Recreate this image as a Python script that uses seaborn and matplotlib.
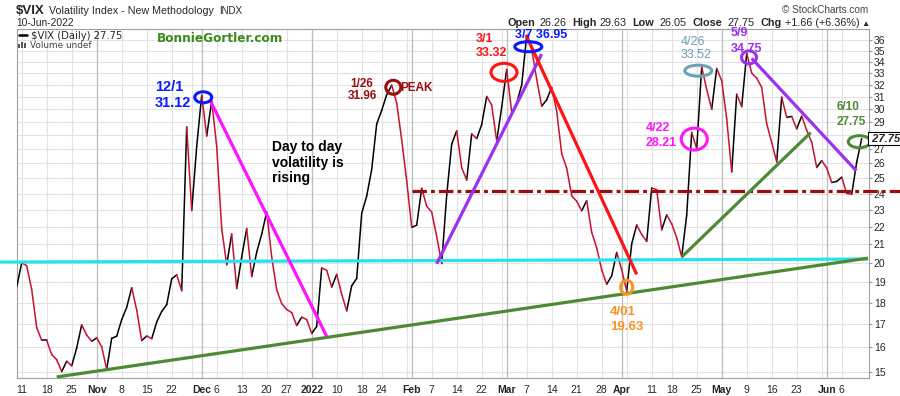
import numpy as np
import pandas as pd
import matplotlib
matplotlib.use("Agg")
import matplotlib.pyplot as plt
import matplotlib.transforms as mtransforms
from matplotlib.patches import Ellipse, Rectangle
from matplotlib.ticker import FixedLocator, FixedFormatter, NullLocator
import seaborn as sns

W, H = 900, 396

# ---------------- data ----------------
holidays = ["2021-11-25", "2021-12-24", "2022-01-17", "2022-02-21",
            "2022-04-15", "2022-05-30"]
dates = pd.bdate_range("2021-10-08", "2022-06-10", freq="C", holidays=holidays)

vix_close = [
    18.77,
    20.00, 19.85, 18.64, 16.86, 16.30, 16.30, 15.70, 15.49, 15.01, 15.43,
    15.24, 15.98, 16.98, 16.53, 16.26,
    16.41, 16.03, 15.10, 16.39, 16.48, 17.22, 17.78, 18.73, 17.66, 16.29,
    16.49, 16.37, 17.11, 17.59, 17.91, 19.17, 19.38, 18.58, 28.62, 22.96, 27.19,
    31.12, 27.95, 30.67, 27.18, 21.89, 19.90, 21.58, 18.69, 20.31, 21.89,
    19.29, 20.57, 21.57, 22.87, 20.31, 18.63, 17.96, 17.68, 17.54, 16.95,
    17.33, 17.22,
    16.60, 16.91, 19.73, 19.61, 18.76, 19.40, 18.41, 17.62, 18.83, 19.19,
    22.79, 23.85, 25.59, 28.85, 29.90, 31.16, 31.96, 30.49, 27.66, 24.83,
    21.96, 22.09, 24.35, 23.22, 22.86, 21.44, 19.96, 23.91, 27.36, 28.33,
    25.70, 24.88, 28.11, 27.75, 28.81, 31.02, 30.32, 27.59, 30.15,
    33.32, 29.74, 30.48, 31.98, 36.45, 35.13, 32.45, 30.23, 30.75, 31.77,
    29.83, 26.67, 25.67, 23.87, 23.53, 22.94, 23.57, 21.67, 20.81, 19.63,
    18.90, 19.33, 20.56,
    19.63, 18.57, 21.03, 22.10, 21.55, 21.16, 24.37, 24.26, 21.82, 22.70,
    22.17, 21.37, 20.32, 22.68, 28.21, 27.02, 33.52, 31.60, 29.99, 33.40,
    32.34, 29.25, 25.42, 31.20, 30.19, 34.75, 32.99, 32.56, 31.77, 28.87,
    27.47, 26.10, 30.96, 29.35, 29.43, 28.48, 29.45, 28.37, 27.50, 25.72,
    26.19,
    25.69, 24.72, 24.79, 25.07, 24.02, 23.96, 26.09, 27.75,
]

tick_dates = ["2021-10-11", "2021-10-18", "2021-10-25", "2021-11-01", "2021-11-08",
              "2021-11-15", "2021-11-22", "2021-12-01", "2021-12-06", "2021-12-13",
              "2021-12-20", "2021-12-27", "2022-01-03", "2022-01-10", "2022-01-18",
              "2022-01-24", "2022-02-01", "2022-02-07", "2022-02-14", "2022-02-22",
              "2022-03-01", "2022-03-07", "2022-03-14", "2022-03-21", "2022-03-28",
              "2022-04-01", "2022-04-11", "2022-04-18", "2022-04-25", "2022-05-02",
              "2022-05-09", "2022-05-16", "2022-05-23", "2022-06-01", "2022-06-06"]
tick_labels = ["11", "18", "25", "Nov", "8", "15", "22", "Dec", "6", "13", "20", "27",
               "2022", "10", "18", "24", "Feb", "7", "14", "22", "Mar", "7", "14", "21",
               "28", "Apr", "11", "18", "25", "May", "9", "16", "23", "Jun", "6"]
bold_labels = {"Nov", "Dec", "2022", "Feb", "Mar", "Apr", "May", "Jun"}
y_ticks = list(range(15, 37))

last_open, last_high, last_low, last_close = 26.26, 29.63, 26.05, 27.75
last_chg, last_chg_pct = 1.66, 6.36

# hand drawn trendlines: (trading-day index, VIX level)
support_20 = [(-3.34, 20.04), (170.26, 20.20)]
long_uptrend = [(8.0, 14.80), (170.26, 20.25)]
dec_downtrend = [(38.66, 30.73), (62.0, 16.47)]
feb_uptrend = [(84.0, 19.95), (105.0, 34.69)]
mar_downtrend = [(101.86, 36.48), (124.0, 19.40)]
apr_uptrend = [(133.0, 20.31), (158.8, 28.20)]
may_downtrend = [(147.0, 34.30), (167.9, 25.50)]
resistance_24 = [(79.0, 24.17), (176.7, 24.17)]

# circled points: index, level
ring_x = [37.3, 75.32, 97.46, 102.32, 136.32, 135.52, 146.46, 122.0, 168.52]
ring_y = [30.95, 31.78, 33.06, 35.37, 33.20, 27.72, 34.39, 18.75, 27.53]

BLUE, DKRED, RED, STEEL = "#0a1aff", "#990f0f", "#ff1414", "#6e9fb6"
MAG, PURP, ORNG, GRN = "#ff14ff", "#9a32ee", "#f7931e", "#4d8a34"
ring_col = [BLUE, DKRED, RED, BLUE, STEEL, MAG, PURP, ORNG, GRN]
ring_w = [17, 15, 26, 27, 27, 26, 15, 12, 22]
ring_h = [11, 14, 18, 10, 11, 22, 13, 14, 12]

# ---------------- figure ----------------
sns.set_style("white")
plt.rcParams["font.family"] = ["Liberation Sans", "DejaVu Sans"]

fig = plt.figure(figsize=(W / 100, H / 100), dpi=100)
ax = fig.add_axes([16.7 / W, 1 - 378 / H, (869 - 16.7) / W, (378 - 28.5) / H])

x = np.arange(len(vix_close))
rows = []
for i in range(1, len(vix_close)):
    d = "up" if vix_close[i] >= vix_close[i - 1] else "down"
    rows += [(i, i - 1, vix_close[i - 1], d), (i, i, vix_close[i], d)]
seg = pd.DataFrame(rows, columns=["seg", "x", "y", "dir"])
sns.lineplot(data=seg, x="x", y="y", hue="dir", units="seg", estimator=None,
             palette={"up": "black", "down": "#cc1030"}, linewidth=1.1,
             legend=False, sort=False, ax=ax, zorder=3)

ax.set_yscale("log")
ax.set_ylim(14.76, 37.11)
ax.set_xlim(0, 170.46)

# grid
wk = pd.Series(dates - pd.to_timedelta(dates.weekday, unit="D"))
week_idx = [i for i in range(1, len(dates)) if wk[i] != wk[i - 1]]
month_idx = [i for i in range(1, len(dates)) if dates[i].month != dates[i - 1].month]
ax.hlines(y_ticks, 0, 170.46, colors="#e2e2e2", lw=0.8, zorder=0)
ax.vlines(week_idx, 14.76, 37.11, colors="#e2e2e2", lw=0.8, zorder=0)
ax.vlines(month_idx, 14.76, 37.11, colors="#bdbdbd", lw=0.9, zorder=0)

# trendlines
def trend(pts, color, lw=2.3, ls="-", clip=True):
    (x0, y0), (x1, y1) = pts
    ax.plot([x0, x1], [y0, y1], color=color, lw=lw, ls=ls, zorder=4,
            clip_on=clip, solid_capstyle="butt")

trend(support_20, "#24e3ee", clip=False)
trend(long_uptrend, GRN)
trend(dec_downtrend, MAG)
trend(resistance_24, DKRED, ls=(0, (4.5, 1.3, 1.2, 1.3)), clip=False)
trend(feb_uptrend, PURP)
trend(mar_downtrend, RED)
trend(apr_uptrend, GRN)
trend(may_downtrend, PURP)

# circled points
for xc, yc, c, w, h in zip(ring_x, ring_y, ring_col, ring_w, ring_h):
    tr = fig.dpi_scale_trans + mtransforms.ScaledTranslation(xc, yc, ax.transData)
    e = Ellipse((0, 0), w / 100, h / 100, fill=False, ec=c, lw=2.2,
                transform=tr, zorder=6)
    ax.add_artist(e)

# axes
# the 28 label sits under the last-price box, so it is left blank
ax.yaxis.tick_right()
ax.yaxis.set_major_locator(FixedLocator(y_ticks))
ax.yaxis.set_major_formatter(
    FixedFormatter(["" if v == 28 else str(v) for v in y_ticks]))
ax.yaxis.set_minor_locator(NullLocator())
ax.tick_params(axis="y", which="major", length=2, pad=1.5, labelsize=7.5,
               color="#999999")

tick_pos = [dates.get_loc(pd.Timestamp(d)) for d in tick_dates]
ax.set_xticks(tick_pos)
ax.set_xticklabels(tick_labels)
ax.set_xticks(x, minor=True)
for lbl in ax.get_xticklabels():
    if lbl.get_text() in bold_labels:
        lbl.set_fontweight("bold")
ax.tick_params(axis="x", which="major", length=2.5, pad=2.5, labelsize=7.5,
               color="#999999")
ax.tick_params(axis="x", which="minor", length=1.2, color="#bbbbbb")
ax.set_xlabel("")
ax.set_ylabel("")
for s in ax.spines.values():
    s.set_color("#a0a0a0")
    s.set_linewidth(0.8)

blend = mtransforms.blended_transform_factory(ax.transAxes, ax.transData)
ax.text(1.0, last_close, " %.2f" % last_close, transform=blend, ha="left",
        va="center", fontsize=8, fontweight="bold", style="italic", zorder=8,
        clip_on=False,
        bbox=dict(boxstyle="square,pad=0.12", fc="white", ec="black", lw=0.8))


def ftxt(px, py, s, **kw):
    kw.setdefault("va", "baseline")
    return fig.text(px / W, 1 - py / H, s, **kw)


# header
ftxt(16, 13.5, "$VIX", fontsize=9.5, fontweight="bold")
ftxt(49, 13.5, "Volatility Index - New Methodology", fontsize=7.7)
ftxt(219, 13.5, "INDX", fontsize=7)
ftxt(16, 26, "10-Jun-2022", fontsize=7.4)
ftxt(868, 13, "\u00a9 StockCharts.com", fontsize=7.2, color="#444444", ha="right")

pieces = [(507.3, "Open", "bold"), (539.3, "%.2f" % last_open, "normal"),
          (572.7, "High", "bold"), (599.0, "%.2f" % last_high, "normal"),
          (632.7, "Low", "bold"), (659.3, "%.2f" % last_low, "normal"),
          (692.7, "Close", "bold"), (727.7, "%.2f" % last_close, "normal"),
          (760.7, "Chg", "bold"),
          (785.0, "+%.2f (+%.2f%%)" % (last_chg, last_chg_pct), "normal"),
          (861.5, "\u25b2", "normal")]
for px, s, wgt in pieces:
    ftxt(px, 26, s, fontsize=7.8 if s != "\u25b2" else 6, fontweight=wgt,
         family=["Liberation Sans", "DejaVu Sans"])

# legend inside plot
fig.add_artist(plt.Line2D([19.3 / W, 26.7 / W], [1 - 35 / H, 1 - 35 / H],
                          color="black", lw=1.8))
ftxt(31, 39, "$VIX (Daily) %.2f" % last_close, fontsize=7.2, family="DejaVu Sans")
for bx, bh in [(17.5, 4), (20.5, 6), (23.5, 5)]:
    fig.add_artist(Rectangle((bx / W, 1 - 48.3 / H), 2 / W, bh / H,
                             transform=fig.transFigure, color="#555555", lw=0))
ftxt(30, 48, "Volume undef", fontsize=6.4, family="DejaVu Sans", color="#444444")
ftxt(157, 41.7, "BonnieGortler.com", fontsize=8.7, fontweight="bold",
     family="DejaVu Sans", color="#3a8a1e")

# annotations
def note(px, lines, base, step, color, size, weight="bold", ha="left"):
    for k, s in enumerate(lines):
        ftxt(px, base + k * step, s, color=color, fontsize=size,
             fontweight=weight, ha=ha)


note(155, ["12/1", "31.12"], 91, 15.7, BLUE, 10.5)
# tightly stacked label, kept as one text block
ftxt(362, 78.3, "1/26\n31.96", va="top", ha="center", multialignment="center",
     linespacing=0.92, color=DKRED, fontsize=8.5, fontweight="bold")
note(400, ["PEAK"], 91, 0, DKRED, 8.5)
note(272, ["Day to day", "volatility is", "rising"], 151, 15.6, "black", 10)
note(475.5, ["3/1", "33.32"], 41.7, 14, RED, 9)
note(515, ["3/7 36.95"], 37.5, 0, BLUE, 9)
note(681, ["4/26", "33.52"], 45.3, 12.7, STEEL, 9, weight="normal")
note(731, ["5/9", "34.75"], 36.5, 15, PURP, 9)
note(646, ["4/22", "28.21"], 131.3, 15, MAG, 9)
note(610, ["4/01", "19.63"], 315, 15, ORNG, 9.5)
note(836.7, ["6/10", "27.75"], 110, 15, GRN, 8.5)

fig.savefig("out.png", dpi=100)
